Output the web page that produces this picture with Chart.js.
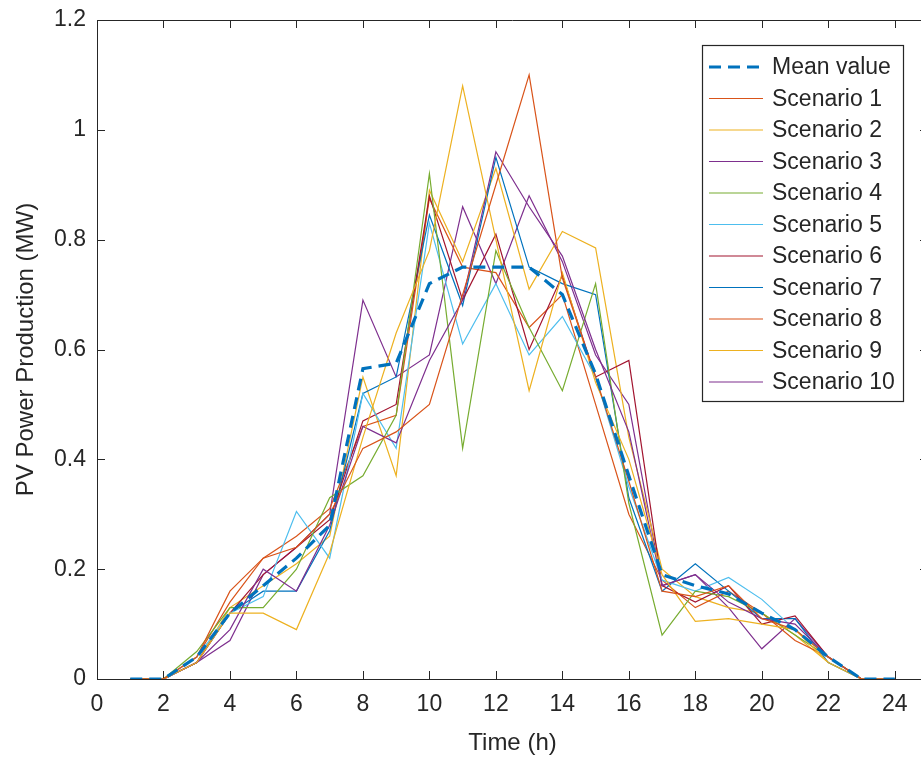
<!DOCTYPE html>
<html>
<head>
<meta charset="utf-8">
<title>PV Power Production</title>
<script src="https://cdn.jsdelivr.net/npm/chart.js@4.4.0/dist/chart.umd.min.js"></script>
<style>
  html, body { margin: 0; padding: 0; overflow: hidden; background: #fff; }
  /* the plot box runs to x = 25, a little past the right edge of the window */
  #wrap { width: 940px; height: 761px; }
</style>
</head>
<body>
<div id="wrap"><canvas id="pvChart"></canvas></div>
<script>
// hours of the day
var hours = [1, 2, 3, 4, 5, 6, 7, 8, 9, 10, 11, 12, 13, 14, 15, 16, 17, 18, 19, 20, 21, 22, 23, 24];

// PV power (MW)
var meanValue  = [0, 0, 0.04, 0.12, 0.17, 0.22, 0.28, 0.565, 0.575, 0.72, 0.75, 0.75, 0.75, 0.70, 0.555, 0.37, 0.19, 0.17, 0.155, 0.12, 0.09, 0.04, 0, 0];
var scenario1  = [0, 0, 0.04, 0.16, 0.22, 0.24, 0.30, 0.42, 0.45, 0.50, 0.70, 0.90, 1.10, 0.73, 0.55, 0.36, 0.16, 0.15, 0.17, 0.11, 0.09, 0.04, 0, 0];
var scenario2  = [0, 0, 0.03, 0.12, 0.12, 0.09, 0.23, 0.44, 0.63, 0.78, 1.08, 0.80, 0.525, 0.74, 0.54, 0.40, 0.19, 0.105, 0.11, 0.10, 0.09, 0.03, 0, 0];
var scenario3  = [0, 0, 0.03, 0.09, 0.20, 0.16, 0.28, 0.46, 0.43, 0.58, 0.69, 0.96, 0.86, 0.77, 0.60, 0.45, 0.17, 0.19, 0.14, 0.11, 0.10, 0.04, 0, 0];
var scenario4  = [0, 0, 0.05, 0.13, 0.13, 0.20, 0.33, 0.37, 0.48, 0.92, 0.42, 0.78, 0.64, 0.525, 0.72, 0.32, 0.08, 0.16, 0.15, 0.12, 0.08, 0.04, 0, 0];
var scenario5  = [0, 0, 0.04, 0.12, 0.15, 0.305, 0.22, 0.52, 0.42, 0.83, 0.61, 0.72, 0.59, 0.66, 0.55, 0.35, 0.18, 0.16, 0.185, 0.145, 0.09, 0.04, 0, 0];
var scenario6  = [0, 0, 0.03, 0.12, 0.19, 0.24, 0.29, 0.47, 0.50, 0.88, 0.69, 0.81, 0.60, 0.735, 0.55, 0.58, 0.17, 0.14, 0.17, 0.10, 0.115, 0.04, 0, 0];
var scenario7  = [0, 0, 0.03, 0.12, 0.16, 0.16, 0.27, 0.52, 0.55, 0.845, 0.68, 0.95, 0.75, 0.72, 0.70, 0.33, 0.16, 0.21, 0.16, 0.11, 0.11, 0.03, 0, 0];
var scenario8  = [0, 0, 0.04, 0.14, 0.22, 0.26, 0.31, 0.46, 0.48, 0.875, 0.75, 0.74, 0.64, 0.70, 0.50, 0.30, 0.18, 0.13, 0.16, 0.12, 0.07, 0.04, 0, 0];
var scenario9  = [0, 0, 0.03, 0.13, 0.17, 0.21, 0.26, 0.55, 0.37, 0.89, 0.76, 0.93, 0.71, 0.815, 0.785, 0.44, 0.20, 0.15, 0.13, 0.12, 0.08, 0.03, 0, 0];
var scenario10 = [0, 0, 0.03, 0.07, 0.19, 0.24, 0.30, 0.69, 0.55, 0.59, 0.86, 0.72, 0.88, 0.76, 0.59, 0.50, 0.17, 0.19, 0.13, 0.055, 0.11, 0.04, 0, 0];

var seriesNames = ["Mean value", "Scenario 1", "Scenario 2", "Scenario 3", "Scenario 4", "Scenario 5",
                   "Scenario 6", "Scenario 7", "Scenario 8", "Scenario 9", "Scenario 10"];
var seriesValues = [meanValue, scenario1, scenario2, scenario3, scenario4, scenario5,
                    scenario6, scenario7, scenario8, scenario9, scenario10];

// matlab default colour order
var lineColors = ["#0072BD", "#D95319", "#EDB120", "#7E2F8E", "#77AC30", "#4DBEEE",
                  "#A2142F", "#0072BD", "#D95319", "#EDB120", "#7E2F8E"];

var axisColor = "#262626";
Chart.defaults.font.family = '"Liberation Sans", Arial, Helvetica, sans-serif';
Chart.defaults.color = axisColor;

// build datasets
var datasets = seriesValues.map(function (vals, i) {
  var isMean = i === 0;
  return {
    label: seriesNames[i],
    data: hours.map(function (h, k) { return { x: h, y: vals[k] }; }),
    borderColor: lineColors[i],
    backgroundColor: lineColors[i],
    borderWidth: isMean ? 3.2 : 1.2,
    borderDash: isMean ? [12, 7] : [],
    pointRadius: 0,
    fill: false,
    tension: 0,
  };
});

// top/right edges of the box and the inward tick marks
var axisBox = {
  id: "axisBox",
  beforeDatasetsDraw: function (chart) {
    var c = chart.ctx, a = chart.chartArea;
    var xs = chart.scales.x, ys = chart.scales.y;
    var len = 8;
    c.save();
    c.strokeStyle = axisColor;
    c.lineWidth = 1;
    c.beginPath();
    c.moveTo(a.left, a.top + 0.5); c.lineTo(a.right, a.top + 0.5);
    c.moveTo(a.right - 0.5, a.top); c.lineTo(a.right - 0.5, a.bottom);
    xs.ticks.forEach(function (t) {
      var px = Math.round(xs.getPixelForValue(t.value)) + 0.5;
      c.moveTo(px, a.bottom); c.lineTo(px, a.bottom - len);
      c.moveTo(px, a.top); c.lineTo(px, a.top + len);
    });
    ys.ticks.forEach(function (t) {
      var py = Math.round(ys.getPixelForValue(t.value)) + 0.5;
      c.moveTo(a.left, py); c.lineTo(a.left + len, py);
      c.moveTo(a.right, py); c.lineTo(a.right - len, py);
    });
    c.stroke();
    c.restore();
  }
};

// boxed legend in the upper right, like matlab's
var boxLegend = {
  id: "boxLegend",
  afterDraw: function (chart) {
    var c = chart.ctx;
    var left = 702, top = 45, w = 201, h = 356;
    c.save();
    c.fillStyle = "#fff";
    c.fillRect(left, top, w, h);
    c.strokeStyle = axisColor;
    c.lineWidth = 1.2;
    c.strokeRect(left + 0.5, top + 0.5, w, h);
    c.font = "23px " + Chart.defaults.font.family;
    c.textBaseline = "middle";
    c.textAlign = "left";
    chart.data.datasets.forEach(function (ds, i) {
      var yy = top + 22 + i * 31.5;
      c.strokeStyle = ds.borderColor;
      c.lineWidth = ds.borderWidth;
      c.setLineDash(ds.borderDash);
      c.beginPath();
      c.moveTo(left + 7, yy);
      c.lineTo(left + 61, yy);
      c.stroke();
      c.setLineDash([]);
      c.fillStyle = axisColor;
      c.fillText(ds.label, left + 70, yy + 1);
    });
    c.restore();
  }
};

var chart = new Chart(document.getElementById("pvChart"), {
  type: "line",
  data: { datasets: datasets },
  options: {
    responsive: true,
    maintainAspectRatio: false,
    animation: false,
    layout: { padding: { top: 20, right: 12, left: 0, bottom: 0 } },
    plugins: {
      legend: { display: false },
      tooltip: { enabled: false },
    },
    scales: {
      x: {
        type: "linear",
        min: 0,
        max: 25,
        afterFit: function (s) { s.height = 82; s.paddingLeft = 0; s.paddingRight = 0; },
        grid: { drawOnChartArea: false, drawTicks: false },
        border: { color: axisColor, width: 1 },
        ticks: { stepSize: 2, includeBounds: false, autoSkip: false, maxRotation: 0,
                 padding: 12, color: axisColor, font: { size: 23 } },
        title: { display: true, text: "Time (h)", color: axisColor,
                 font: { size: 24 }, padding: { top: 0, bottom: 3 } },
      },
      y: {
        min: 0,
        max: 1.2,
        afterFit: function (s) { s.width = 97; s.paddingTop = 0; s.paddingBottom = 0; },
        grid: { drawOnChartArea: false, drawTicks: false },
        border: { color: axisColor, width: 1 },
        ticks: { stepSize: 0.2, padding: 11, color: axisColor, font: { size: 23 },
                 callback: function (v) { return String(+v.toFixed(1)); } },
        title: { display: true, text: "PV Power Production (MW)", color: axisColor,
                 font: { size: 24 }, padding: { top: 12, bottom: 0 } },
      },
    },
  },
  plugins: [axisBox, boxLegend],
});
</script>
</body>
</html>
